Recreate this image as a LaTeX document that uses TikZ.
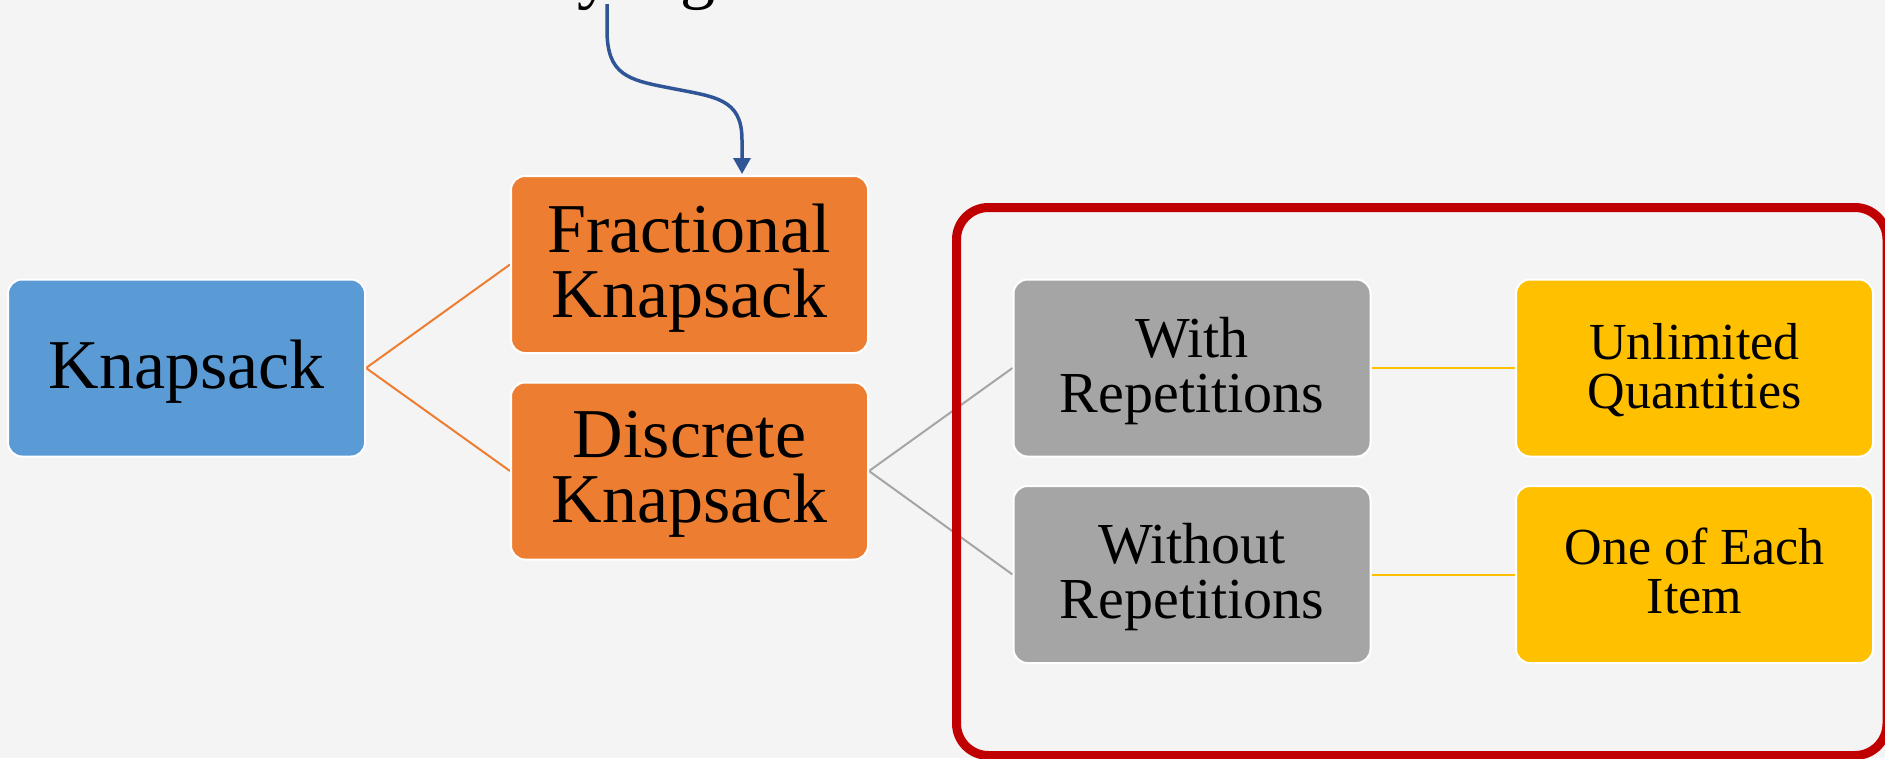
\documentclass[tikz,border=0pt]{standalone}
\usepackage{fontspec}
\setmainfont{Liberation Serif}
\usetikzlibrary{arrows.meta}
\definecolor{bgc}{HTML}{F4F4F4}
\definecolor{kblue}{HTML}{5B9BD5}
\definecolor{korange}{HTML}{ED7D31}
\definecolor{kgray}{HTML}{A5A5A5}
\definecolor{kyellow}{HTML}{FFC000}
\definecolor{kred}{HTML}{C00000}
\definecolor{karrow}{HTML}{2F5597}
\pgfdeclarelayer{bglayer}
\pgfdeclarelayer{linelayer}
\pgfsetlayers{bglayer,linelayer,main}
\begin{document}
\begin{tikzpicture}[x=1pt,y=-1pt,
  box/.style={rounded corners=14pt, draw=white, line width=2pt, minimum width=357pt,
    minimum height=177pt, inner sep=0pt},
  boxtext/.style={inner sep=0pt, align=center, text=black},
  bigtext/.style={boxtext, font=\fontsize{70}{65}\selectfont},
  graytext/.style={boxtext, font=\fontsize{58}{55}\selectfont},
  yellowtext/.style={boxtext, font=\fontsize{52}{49}\selectfont},
  orangeline/.style={draw=korange, line width=2pt},
  grayline/.style={draw=kgray, line width=2pt},
  yellowline/.style={draw=kyellow, line width=2pt},
  redframe/.style={draw=kred, line width=9pt, rounded corners=32pt},
  bluearrow/.style={draw=karrow, line width=3.5pt, -{Triangle[width=17pt,length=16pt]}}
]
\useasboundingbox (0,0) rectangle (1885,758);
\clip (0,0) rectangle (1885,758);
\begin{pgfonlayer}{bglayer}
\fill[bgc] (0,0) rectangle (1885,758);
\end{pgfonlayer}

\node[anchor=base west, font=\fontsize{70}{70}\selectfont] (title) at (403,-5) {Greedy algorithm};

\node[box, fill=kblue] (knap) at (186.5,368) {};
\node[box, fill=korange] (frac) at (689.5,264.5) {};
\node[box, fill=korange] (disc) at (689.5,471) {};
\node[box, fill=kgray] (withrep) at (1192,368) {};
\node[box, fill=kgray] (withoutrep) at (1192,574.5) {};
\node[box, fill=kyellow] (unlim) at (1694.5,368) {};
\node[box, fill=kyellow] (oneeach) at (1694.5,574.5) {};

\node[bigtext, yshift=-3.5pt] (knapT) at (knap) {Knapsack};
\node[bigtext, yshift=-3.5pt] (fracT) at (frac) {Fractional\\Knapsack};
\node[bigtext, yshift=-3.5pt] (discT) at (disc) {Discrete\\Knapsack};
\node[graytext, yshift=-3pt] (withrepT) at (withrep) {With\\Repetitions};
\node[graytext, yshift=-3pt] (withoutrepT) at (withoutrep) {Without\\Repetitions};
\node[yellowtext, yshift=-2.4pt] (unlimT) at (unlim) {Unlimited\\Quantities};
\node[yellowtext, yshift=3.2pt] (oneeachT) at (oneeach) {One of Each\\Item};

\coordinate (arrstart) at (607,4);
\coordinate (arrend) at (742,174);

\begin{pgfonlayer}{linelayer}
\draw[orangeline] (knap.east) -- (frac.west);
\draw[orangeline] (knap.east) -- (disc.west);
\draw[grayline] (disc.east) -- (withrep.west);
\draw[grayline] (disc.east) -- (withoutrep.west);
\draw[yellowline] (withrep.east) -- (unlim.west);
\draw[yellowline] (withoutrep.east) -- (oneeach.west);
\draw[redframe] (956.5,207.5) rectangle (1887,755.5);
\end{pgfonlayer}

\draw[bluearrow] (arrstart) -- (607,30) .. controls (607,75) and (628,80) .. (670,88)
  .. controls (715,97) and (742,98) .. (742,140) -- (arrend);
\end{tikzpicture}
\end{document}
